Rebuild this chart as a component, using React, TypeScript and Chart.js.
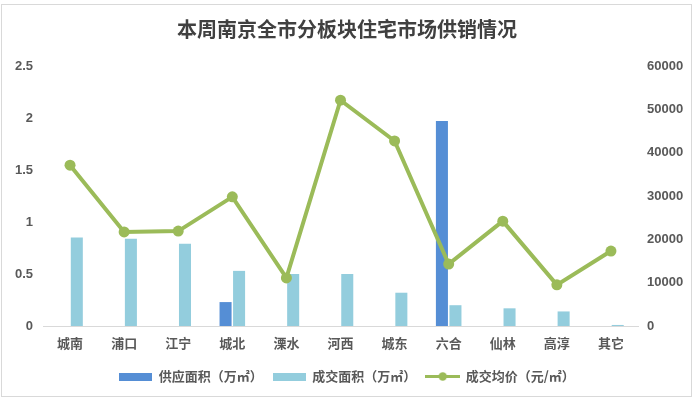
import React, { useEffect, useRef } from "react";
import { Chart, registerables } from "chart.js";

Chart.register(...registerables);

const categories = ["城南", "浦口", "江宁", "城北", "溧水", "河西", "城东", "六合", "仙林", "高淳", "其它"];
const supplyArea = [null, null, null, 0.23, null, null, null, 1.97, null, null, null];
const salesArea = [0.85, 0.84, 0.79, 0.53, 0.5, 0.5, 0.32, 0.2, 0.17, 0.14, 0.01];
const avgPrice = [37100, 21700, 21900, 29800, 11100, 52100, 42700, 14300, 24200, 9500, 17300];
const leftTicks = [0, 0.5, 1, 1.5, 2, 2.5];
const rightTicks = [0, 10000, 20000, 30000, 40000, 50000, 60000];
const seriesNames = ["供应面积（万㎡）", "成交面积（万㎡）", "成交均价（元/㎡）"];
const titleText = "本周南京全市分板块住宅市场供销情况";

const SUPPLY = "#558ed5";
const SALES = "#93cddd";
const PRICE = "#9bbb59";
const TEXT = "#595959";
const FONT = "'Noto Sans CJK SC', 'Liberation Sans', sans-serif";

function rectImg(color: string) {
  const c = document.createElement("canvas");
  c.width = 33;
  c.height = 8;
  const g = c.getContext("2d")!;
  g.fillStyle = color;
  g.fillRect(0, 0, 33, 8);
  return c;
}
function lineImg(color: string) {
  const c = document.createElement("canvas");
  c.width = 35;
  c.height = 11;
  const g = c.getContext("2d")!;
  g.strokeStyle = color;
  g.lineWidth = 3;
  g.beginPath();
  g.moveTo(0, 5.5);
  g.lineTo(35, 5.5);
  g.stroke();
  g.fillStyle = color;
  g.beginPath();
  g.arc(17.5, 5.5, 4.2, 0, Math.PI * 2);
  g.fill();
  return c;
}

const borderPlugin = {
  id: "outerBorder",
  beforeDraw(chart: any) {
    const ctx = chart.ctx;
    ctx.save();
    ctx.fillStyle = "#ffffff";
    ctx.fillRect(0, 0, chart.width, chart.height);
    ctx.strokeStyle = "#d9d9d9";
    ctx.lineWidth = 1;
    ctx.strokeRect(1.5, 4.5, 690, 392);
    ctx.restore();
  },
};

export default function App() {
  const ref = useRef<HTMLCanvasElement>(null);
  useEffect(() => {
    document.body.style.margin = "0";
    const imgs = [rectImg(SUPPLY), rectImg(SALES), lineImg(PRICE)];
    const colors = [SUPPLY, SALES, PRICE];
    const chart = new Chart(ref.current!, {
      type: "bar",
      data: {
        labels: categories,
        datasets: [
          {
            type: "bar",
            label: seriesNames[0],
            data: supplyArea as any,
            backgroundColor: SUPPLY,
            yAxisID: "y",
            order: 1,
            categoryPercentage: 0.5,
            barPercentage: 0.89,
          },
          {
            type: "bar",
            label: seriesNames[1],
            data: salesArea,
            backgroundColor: SALES,
            yAxisID: "y",
            order: 1,
            categoryPercentage: 0.5,
            barPercentage: 0.89,
          },
          {
            type: "line",
            label: seriesNames[2],
            data: avgPrice,
            borderColor: PRICE,
            backgroundColor: PRICE,
            borderWidth: 4,
            pointRadius: 5.5,
            pointBackgroundColor: PRICE,
            pointBorderWidth: 0,
            yAxisID: "y1",
            order: 0,
            tension: 0,
          } as any,
        ],
      },
      options: {
        animation: false,
        responsive: false,
        maintainAspectRatio: false,
        layout: { padding: { top: 8, bottom: 5, left: 0, right: 0 } },
        plugins: {
          title: {
            display: true,
            text: titleText,
            color: "#404040",
            font: { family: FONT, size: 20, weight: "bold" },
            padding: { top: 9, bottom: 25 },
          },
          legend: {
            position: "bottom",
            labels: {
              usePointStyle: true,
              pointStyleWidth: 33,
              boxHeight: 8,
              padding: 10,
              color: TEXT,
              font: { family: FONT, size: 13, weight: "bold" },
              generateLabels: () =>
                seriesNames.map((t, i) => ({
                  text: t,
                  fillStyle: colors[i],
                  strokeStyle: colors[i],
                  lineWidth: 0,
                  hidden: false,
                  datasetIndex: i,
                  pointStyle: imgs[i] as any,
                  fontColor: TEXT,
                })),
            },
          },
          tooltip: { enabled: false },
        },
        scales: {
          x: {
            offset: true,
            grid: { display: false, drawTicks: false },
            border: { display: true, color: "#d9d9d9", width: 1 },
            ticks: { color: TEXT, padding: 9, font: { family: FONT, size: 13, weight: "bold" } },
            afterFit: (s: any) => {
              s.height = 34;
            },
          },
          y: {
            position: "left",
            min: 0,
            max: 2.5,
            grid: { display: false, drawTicks: false },
            border: { display: false },
            afterBuildTicks: (s: any) => {
              s.ticks = leftTicks.map((v) => ({ value: v }));
            },
            ticks: {
              color: TEXT,
              padding: 10,
              font: { family: "'Liberation Sans', sans-serif", size: 13, weight: "bold" },
              callback: (v: any) => String(v),
            },
            afterFit: (s: any) => {
              s.width = 43;
            },
          },
          y1: {
            position: "right",
            min: 0,
            max: 60000,
            grid: { display: false, drawTicks: false },
            border: { display: false },
            afterBuildTicks: (s: any) => {
              s.ticks = rightTicks.map((v) => ({ value: v }));
            },
            ticks: {
              color: TEXT,
              padding: 9,
              font: { family: "'Liberation Sans', sans-serif", size: 13, weight: "bold" },
              callback: (v: any) => String(v),
            },
            afterFit: (s: any) => {
              s.width = 56;
            },
          },
        },
      },
      plugins: [borderPlugin],
    } as any);
    return () => chart.destroy();
  }, []);
  return (
    <div style={{ width: 694, height: 398 }}>
      <canvas ref={ref} width={694} height={398} style={{ display: "block", width: 694, height: 398 }} />
    </div>
  );
}
